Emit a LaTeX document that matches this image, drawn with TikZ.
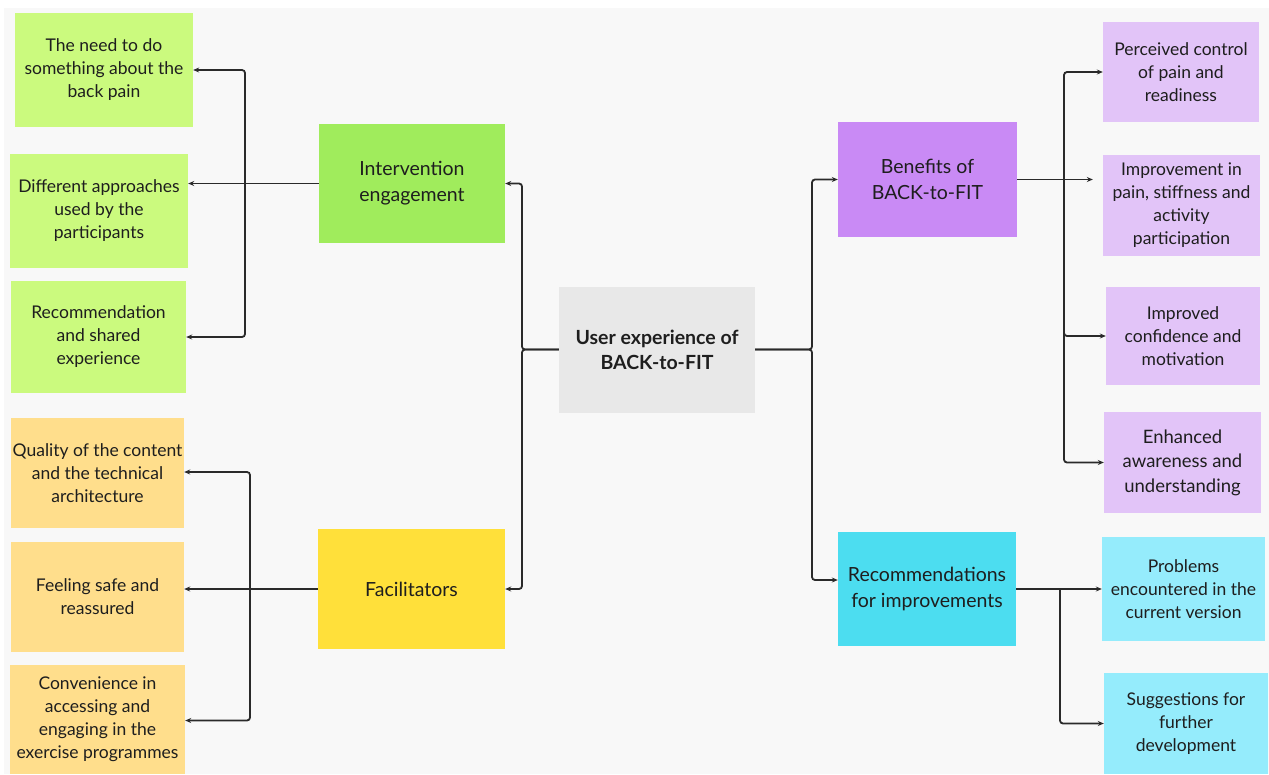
\documentclass[tikz,border=0pt]{standalone}
\usepackage{fontspec}
\setmainfont{Lato}
\usetikzlibrary{arrows.meta}
\definecolor{bgc}{HTML}{F8F8F8}
\definecolor{txt}{HTML}{1E1E1E}
\definecolor{gLeaf}{HTML}{CBFA7E}
\definecolor{gMain}{HTML}{A0EC5C}
\definecolor{yLeaf}{HTML}{FFDE8C}
\definecolor{yMain}{HTML}{FFE03A}
\definecolor{pLeaf}{HTML}{E2C4F8}
\definecolor{pMain}{HTML}{C98AF5}
\definecolor{cLeaf}{HTML}{95ECFC}
\definecolor{cMain}{HTML}{4CDDF0}
\definecolor{cent}{HTML}{E8E8E8}
\definecolor{lnc}{HTML}{2A2A2A}
\tikzset{
  box/.style={rectangle, inner sep=0pt, align=center, text=txt, anchor=center},
  leaf/.style={box, font=\fontsize{17.5}{23}\selectfont},
  mainbox/.style={box, font=\fontsize{19.5}{26}\selectfont},
  conn/.style={draw=lnc, line width=1.8pt, rounded corners=3pt},
  arr/.style={conn, -{Stealth[length=6pt,width=5pt]}},
}
\begin{document}
\begin{tikzpicture}[x=1pt,y=-1pt]
\useasboundingbox (0,0) rectangle (1269,774);
\fill[white] (0,0) rectangle (1269,774);
\fill[bgc] (4,8) rectangle (1269,774);
% left green
\node[leaf, fill=gLeaf, minimum width=178pt, minimum height=114pt] (n1) at (104,70) {The need to do\\something about the\\back pain};
\node[leaf, fill=gLeaf, minimum width=178pt, minimum height=114pt] (n2) at (99,211) {Different approaches\\used by the\\participants};
\node[leaf, fill=gLeaf, minimum width=175pt, minimum height=112pt] (n3) at (98.5,337) {Recommendation\\and shared\\experience};
\node[mainbox, fill=gMain, minimum width=186pt, minimum height=119pt] (ie) at (412,183.5) {Intervention\\engagement};
% left yellow
\node[leaf, fill=yLeaf, minimum width=173pt, minimum height=110pt] (q1) at (97.5,473) {Quality of the content\\and the technical\\architecture};
\node[leaf, fill=yLeaf, minimum width=173pt, minimum height=110pt] (q2) at (97.5,597) {Feeling safe and\\reassured};
\node[leaf, fill=yLeaf, minimum width=175pt, minimum height=109pt] (q3) at (97.5,719.5) {Convenience in\\accessing and\\engaging in the\\exercise programmes};
\node[mainbox, fill=yMain, minimum width=187pt, minimum height=120pt] (fa) at (411.5,589) {Facilitators};
% centre
\node[mainbox, fill=cent, minimum width=196pt, minimum height=126pt, font=\fontsize{19.5}{25}\selectfont\bfseries] (ce) at (657,349.5) {User experience of\\BACK-to-FIT};
% right purple
\node[mainbox, fill=pMain, minimum width=179pt, minimum height=115pt] (be) at (927.5,179.5) {Benefits of\\BACK-to-FIT};
\node[leaf, fill=pLeaf, minimum width=156pt, minimum height=100pt] (p1) at (1181,72) {Perceived control\\of pain and\\readiness};
\node[leaf, fill=pLeaf, minimum width=157pt, minimum height=101pt] (p2) at (1181.5,205.5) {Improvement in\\pain, stiffness and\\activity\\participation};
\node[leaf, fill=pLeaf, minimum width=154pt, minimum height=98pt] (p3) at (1183,336) {Improved\\confidence and\\motivation};
\node[leaf, fill=pLeaf, minimum width=157pt, minimum height=101pt, font=\fontsize{18.5}{24.5}\selectfont] (p4) at (1182.5,462.5) {Enhanced\\awareness and\\understanding};
% right cyan
\node[mainbox, fill=cMain, minimum width=178pt, minimum height=114pt] (re) at (927,589) {Recommendations\\for improvements};
\node[leaf, fill=cLeaf, minimum width=163pt, minimum height=104pt] (c1) at (1183.5,589) {Problems\\encountered in the\\current version};
\node[leaf, fill=cLeaf, minimum width=164pt, minimum height=101pt] (c2) at (1186,723.5) {Suggestions for\\further\\development};
% coordinates for buses
\coordinate (bl1) at (245,183.5);
\coordinate (bl2) at (250,589);
\coordinate (bc) at (522,349.5);
\coordinate (br) at (812,349.5);
\coordinate (bb) at (1064,179.5);
\coordinate (brr) at (1060,589);
% centre connectors
\draw[arr] (ce.west) -- (bc) |- (ie.east);
\draw[arr] (ce.west) -- (bc) |- (fa.east);
\draw[arr] (ce.east) -- (br) |- (be.west);
\draw[arr] (ce.east) -- (br) |- ([yshift=9pt]re.west);
% intervention
\draw[conn] (ie.west) -- (bl1);
\draw[arr] (bl1) |- (n1.east);
\draw[arr] (bl1) -- (n2.east |- bl1);
\draw[arr] (bl1) |- (n3.east);
% facilitators
\draw[conn] (fa.west) -- (bl2);
\draw[arr] (bl2) |- ([yshift=1pt]q1.east);
\draw[arr] (bl2) -- (q2.east |- bl2);
\draw[arr] (bl2) |- ([yshift=-1pt]q3.east);
% benefits
\draw[conn] (be.east) -- (bb);
\draw[arr] (bb) |- (p1.west);
\draw[arr] (bb) -- ([xshift=-10pt]p2.west |- bb);
\draw[arr] (bb) |- (p3.west);
\draw[arr] (bb) |- (p4.west);
% recommendations
\draw[conn] (re.east) -- (brr);
\draw[arr] (brr) -- (c1.west);
\draw[arr] (brr) |- (c2.west);
\end{tikzpicture}
\end{document}
